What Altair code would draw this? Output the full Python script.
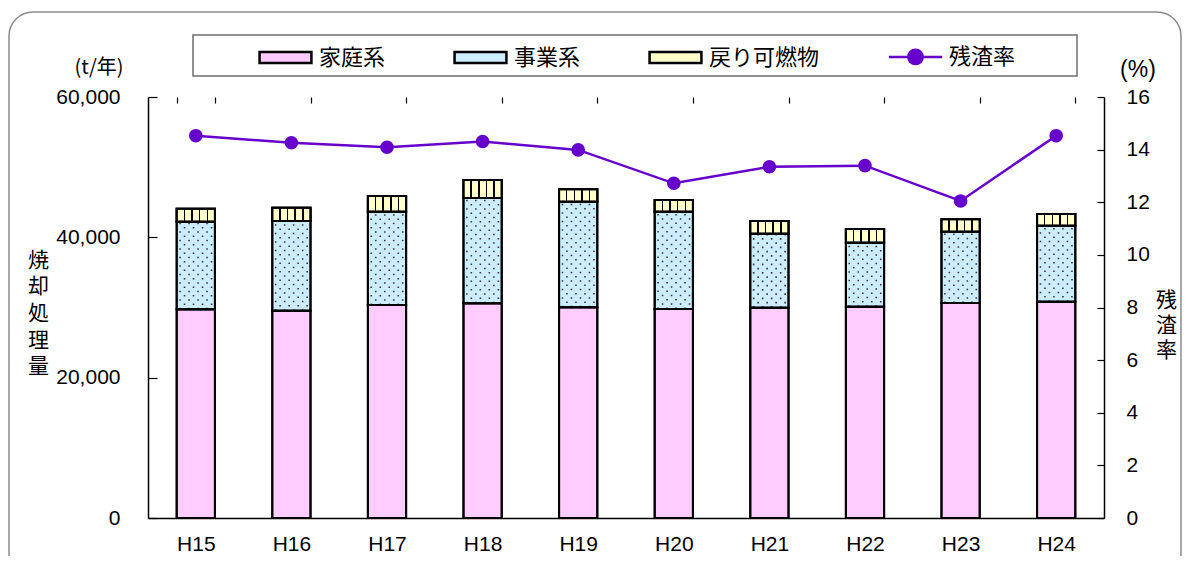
import altair as alt
import pandas as pd

# ---- data ----
years = ["H15", "H16", "H17", "H18", "H19", "H20", "H21", "H22", "H23", "H24"]
household = [29740, 29540, 30350, 30600, 30030, 29780, 29970, 30110, 30640, 30820]   # 家庭系
business = [12480, 12780, 13300, 15000, 15040, 13870, 10540, 9120, 10160, 10830]     # 事業系
returned = [1850, 1900, 2240, 2570, 1770, 1670, 1810, 1950, 1770, 1670]              # 戻り可燃物
residue_rate = [14.53, 14.26, 14.09, 14.31, 13.99, 12.72, 13.35, 13.39, 12.05, 14.53]  # 残渣率 (%)

series_names = ["家庭系", "事業系", "戻り可燃物", "残渣率"]
left_ticks = [0, 20000, 40000, 60000]
right_ticks = [0, 2, 4, 6, 8, 10, 12, 14, 16]

PINK = "#FFCCFF"
BLUE = "#CCECFF"
YELLOW = "#FFFFCC"
PURPLE = "#6600CC"
JP = "Noto Sans CJK JP"
LAT = "Liberation Sans"

rows = []
for i, y in enumerate(years):
    rows.append({"year": y, "series": series_names[0], "value": household[i], "order": 0})
    rows.append({"year": y, "series": series_names[1], "value": business[i], "order": 1})
    rows.append({"year": y, "series": series_names[2], "value": returned[i], "order": 2})
bar_df = pd.DataFrame(rows)
rate_df = pd.DataFrame({"year": years, "rate": residue_rate})
legend_df = pd.DataFrame({"series": series_names})
one_df = pd.DataFrame({"k": [0]})

# short inward tick marks are drawn as a dashed grid (one dash from the axis side)
x_enc = alt.X(
    "year:N",
    sort=years,
    scale=alt.Scale(paddingInner=0.6, paddingOuter=0.3),
    axis=alt.Axis(
        title=None, labelAngle=0, labelFont=LAT, labelFontSize=21, labelColor="black",
        labelPadding=15, ticks=False, tickBand="extent",
        domainColor="black", domainWidth=1.5,
        grid=True, gridColor="black", gridWidth=1.2, gridDash=[6, 3000], gridOpacity=1,
    ),
)

left_axis = alt.Axis(
    values=left_ticks, labelExpr="format(datum.value, ',')",
    grid=True, gridColor="black", gridWidth=1.2, gridDash=[9, 3000], gridOpacity=1,
    title=["焼", "却", "処", "理", "量"], titleAngle=0, titleX=-110, titleY=163,
    titleAlign="center", titleBaseline="middle", titleFont=JP, titleFontSize=21,
    titleFontWeight="normal", titleLineHeight=26.7, titleColor="black",
    labelFont=LAT, labelFontSize=21, labelColor="black", labelPadding=28,
    ticks=False, domainColor="black", domainWidth=1.5,
)

right_axis = alt.Axis(
    orient="right", values=right_ticks,
    grid=True, gridColor="black", gridWidth=1.2, gridDash=[7, 3000], gridOpacity=1,
    title=["残", "渣", "率"], titleAngle=0, titleX=62, titleY=203,
    titleAlign="center", titleBaseline="middle", titleFont=JP, titleFontSize=21,
    titleFontWeight="normal", titleLineHeight=25, titleColor="black",
    labelFont=LAT, labelFontSize=21, labelColor="black", labelPadding=22,
    ticks=False, domainColor="black", domainWidth=1.5,
)

y_left_scale = alt.Scale(domain=[0, 60000], nice=False)
y_right_scale = alt.Scale(domain=[0, 16], nice=False)

fill_scale = alt.Scale(domain=series_names, range=[PINK, BLUE, YELLOW, PURPLE])
stroke_scale = alt.Scale(domain=series_names, range=["black", "black", "black", PURPLE])
rect_path = "M-1.8,-0.38H1.8V0.38H-1.8Z"
line_path = "M-1.85,0H1.85M0.5,0A0.5,0.5,0,1,1,-0.5,0A0.5,0.5,0,1,1,0.5,0Z"
shape_scale = alt.Scale(domain=series_names, range=[rect_path, rect_path, rect_path, line_path])
leg = alt.Legend(title=None)

# decorations: outer rounded frame and legend box
frame = alt.Chart(one_df).mark_rect(
    fill="white", fillOpacity=0, stroke="#8c8c8c", strokeWidth=1.5, cornerRadius=24
).encode(x=alt.value(-139), x2=alt.value(1033), y=alt.value(-85), y2=alt.value(480))

legend_box = alt.Chart(one_df).mark_rect(
    fill="white", stroke="#6e6e6e", strokeWidth=1.5
).encode(x=alt.value(45), x2=alt.value(929), y=alt.value(-62), y2=alt.value(-21))

unit_left = alt.Chart(one_df).mark_text(font=JP, fontSize=20, color="black").encode(
    x=alt.value(-49), y=alt.value(-29), text=alt.value("(t/年)"))
unit_right = alt.Chart(one_df).mark_text(font=LAT, fontSize=23, color="black").encode(
    x=alt.value(990), y=alt.value(-27), text=alt.value("(%)"))

stacked = alt.Chart(bar_df).transform_stack(
    stack="value", groupby=["year"], as_=["v0", "v1"],
    sort=[alt.SortField("order", order="ascending")],
)

y_v0 = alt.Y("v0:Q", scale=y_left_scale, axis=left_axis)

bars = stacked.mark_bar(stroke="black", strokeWidth=2).encode(
    x=x_enc, y=y_v0, y2="v1:Q",
    fill=alt.Fill("series:N", scale=fill_scale, legend=leg),
)

# dotted texture on 事業系
dots_base = stacked.transform_filter(alt.datum.series == "事業系").transform_calculate(
    col="[0,1,2,3,4,5,6,7]"
).transform_flatten(["col"]).transform_calculate(parity="datum.col % 2")
xoff = alt.XOffset("col:O", scale=alt.Scale(paddingInner=0, paddingOuter=0.25))
dots_even = dots_base.transform_filter("datum.parity == 0").mark_rule(
    color="#3a3a3a", strokeWidth=1.6, strokeDash=[1.6, 6.9], strokeCap="butt"
).encode(x=x_enc, xOffset=xoff, y=y_v0, y2="v1:Q")
dots_odd = dots_base.transform_filter("datum.parity == 1").mark_rule(
    color="#3a3a3a", strokeWidth=1.6, strokeDash=[1.6, 6.9], strokeDashOffset=4.25, strokeCap="butt"
).encode(x=x_enc, xOffset=xoff, y=y_v0, y2="v1:Q")

# striped texture on 戻り可燃物
stops = [alt.GradientStop(color=YELLOW, offset=0)]
for c in [0.2, 0.4, 0.6, 0.8]:
    stops += [
        alt.GradientStop(color=YELLOW, offset=c - 0.02),
        alt.GradientStop(color="black", offset=c - 0.02),
        alt.GradientStop(color="black", offset=c + 0.02),
        alt.GradientStop(color=YELLOW, offset=c + 0.02),
    ]
stops.append(alt.GradientStop(color=YELLOW, offset=1))
stripe_fill = alt.LinearGradient(gradient="linear", stops=stops, x1=0, x2=1, y1=0, y2=0)

stripes = stacked.transform_filter(alt.datum.series == "戻り可燃物").mark_bar(
    fill=stripe_fill, stroke="black", strokeWidth=2
).encode(x=x_enc, y=y_v0, y2="v1:Q")

bar_outline = stacked.mark_bar(fill="white", fillOpacity=0, stroke="black", strokeWidth=2).encode(
    x=x_enc, y=y_v0, y2="v1:Q")

legend_layer = alt.Chart(legend_df).mark_point(filled=True, opacity=0).encode(
    x=alt.value(0), y=alt.value(0),
    fill=alt.Fill("series:N", scale=fill_scale, legend=leg),
    stroke=alt.Stroke("series:N", scale=stroke_scale, legend=leg),
    shape=alt.Shape("series:N", scale=shape_scale, legend=leg),
)

left_group = alt.layer(frame, legend_box, unit_left, unit_right, bars, dots_even, dots_odd,
                       stripes, bar_outline, legend_layer)

y_rate = alt.Y("rate:Q", scale=y_right_scale, axis=right_axis)
rate_line = alt.Chart(rate_df).mark_line(color=PURPLE, strokeWidth=2.5).encode(x=x_enc, y=y_rate)
rate_pts = alt.Chart(rate_df).mark_circle(color=PURPLE, size=185, opacity=1).encode(x=x_enc, y=y_rate)
right_group = alt.layer(rate_line, rate_pts)

chart = alt.layer(left_group, right_group).resolve_scale(y="independent").properties(
    width=956, height=421,
    padding={"left": 140, "top": 89, "right": 78, "bottom": 38},
    autosize=alt.AutoSizeParams(type="none"),
    background="white",
).configure_view(strokeWidth=0).configure_legend(
    orient="none", legendX=121.5, legendY=-56.5, direction="horizontal",
    symbolSize=830, symbolStrokeWidth=2.5, symbolOpacity=1,
    labelFont=JP, labelFontSize=22, labelColor="black", labelOffset=17.5,
    columnPadding=64, padding=0,
)

chart.save("out.html", embed_options={"renderer": "svg", "actions": False})
